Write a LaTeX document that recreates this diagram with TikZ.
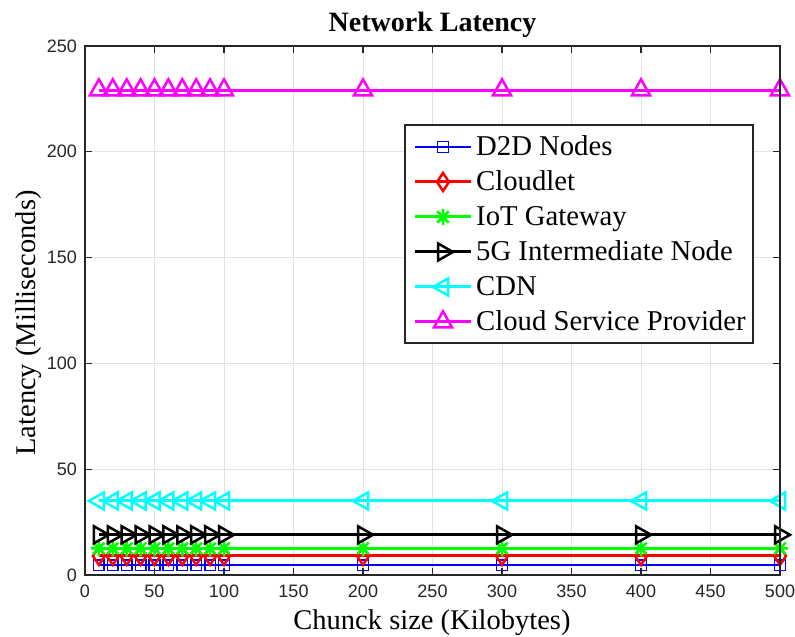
\documentclass[tikz,border=0pt]{standalone}
\usepackage{fontspec}
\setmainfont{Liberation Serif}
\newfontfamily\axisfont{Liberation Sans}
\usetikzlibrary{plotmarks}

\definecolor{axisgray}{HTML}{262626}
\definecolor{gridgray}{HTML}{E2E2E2}
\definecolor{pureblue}{rgb}{0,0,1}
\definecolor{purered}{rgb}{1,0,0}
\definecolor{puregreen}{rgb}{0,1,0}
\definecolor{purecyan}{rgb}{0,1,1}
\definecolor{puremagenta}{rgb}{1,0,1}

% series markers, centred on the data point
\pgfdeclareplotmark{msq}{%
  \pgfpathrectangle{\pgfqpoint{-5.3pt}{-5.3pt}}{\pgfqpoint{10.6pt}{10.6pt}}%
  \pgfusepathqstroke}
\pgfdeclareplotmark{mdia}{%
  \pgfpathmoveto{\pgfqpoint{0pt}{9pt}}%
  \pgfpathlineto{\pgfqpoint{6pt}{0pt}}%
  \pgfpathlineto{\pgfqpoint{0pt}{-9pt}}%
  \pgfpathlineto{\pgfqpoint{-6pt}{0pt}}%
  \pgfpathclose\pgfusepathqstroke}
\pgfdeclareplotmark{mast}{%
  \pgfpathmoveto{\pgfqpoint{-8pt}{0pt}}\pgfpathlineto{\pgfqpoint{8pt}{0pt}}%
  \pgfpathmoveto{\pgfqpoint{0pt}{-8pt}}\pgfpathlineto{\pgfqpoint{0pt}{8pt}}%
  \pgfpathmoveto{\pgfqpoint{-5.7pt}{-5.7pt}}\pgfpathlineto{\pgfqpoint{5.7pt}{5.7pt}}%
  \pgfpathmoveto{\pgfqpoint{-5.7pt}{5.7pt}}\pgfpathlineto{\pgfqpoint{5.7pt}{-5.7pt}}%
  \pgfusepathqstroke}
\pgfdeclareplotmark{mtriup}{%
  \pgfpathmoveto{\pgfqpoint{0pt}{10.7pt}}%
  \pgfpathlineto{\pgfqpoint{9pt}{-5.3pt}}%
  \pgfpathlineto{\pgfqpoint{-9pt}{-5.3pt}}%
  \pgfpathclose\pgfusepathqstroke}
\pgfdeclareplotmark{mtriright}{%
  \pgfpathmoveto{\pgfqpoint{10pt}{0pt}}%
  \pgfpathlineto{\pgfqpoint{-5pt}{8.5pt}}%
  \pgfpathlineto{\pgfqpoint{-5pt}{-8.5pt}}%
  \pgfpathclose\pgfusepathqstroke}
\pgfdeclareplotmark{mtrileft}{%
  \pgfpathmoveto{\pgfqpoint{-10pt}{0pt}}%
  \pgfpathlineto{\pgfqpoint{5pt}{8.5pt}}%
  \pgfpathlineto{\pgfqpoint{5pt}{-8.5pt}}%
  \pgfpathclose\pgfusepathqstroke}

\tikzset{
  axisline/.style={draw=axisgray, line width=1.3pt},
  gridline/.style={draw=gridgray, line width=1pt},
  ticklabel/.style={font=\axisfont\fontsize{18}{20}\selectfont, text=axisgray, inner sep=0pt},
  labeltext/.style={font=\fontsize{28.5}{32}\selectfont, inner sep=0pt},
  legendtext/.style={font=\fontsize{28.7}{32}\selectfont, inner sep=0pt, anchor=base west},
  sD2D/.style={pureblue, line width=1.5pt, mark=msq, mark options={solid, line width=1.5pt}},
  sCloudlet/.style={purered, line width=3pt, line join=miter, mark=mdia, mark options={solid, line width=2.5pt}},
  sIoT/.style={puregreen, line width=3pt, mark=mast, mark options={solid, line width=2.5pt}},
  sFiveG/.style={black, line width=3pt, line join=miter, mark=mtriright, mark options={solid, line width=2.5pt}},
  sCDN/.style={purecyan, line width=3pt, line join=miter, mark=mtrileft, mark options={solid, line width=2.5pt}},
  sCSP/.style={puremagenta, line width=3pt, line join=miter, mark=mtriup, mark options={solid, line width=2.5pt}},
}

% one constant-latency series over all chunk sizes
\newcommand\latseries[2]{%
  \draw[#1] plot coordinates {(10,#2) (20,#2) (30,#2) (40,#2) (50,#2) (60,#2)
    (70,#2) (80,#2) (90,#2) (100,#2) (200,#2) (300,#2) (400,#2) (500,#2)};}

% one legend entry: sample line with its marker in the middle, then the name
\newcommand\legentry[4]{%
  \draw[#2, mark indices={2}] plot coordinates {(415,#1) (443,#1) (471,#1)};
  \node[legendtext] (#3) at (476,#1-9) {#4};}

\begin{document}
\begin{tikzpicture}[x=1pt, y=1pt]
\useasboundingbox (0,0) rectangle (795,637);

\begin{scope}[shift={(85,62)}, x=1.39pt, y=2.116pt]
  % grid
  \foreach \gx in {50,100,...,450} \draw[gridline] (\gx,0) -- (\gx,250);
  \foreach \gy in {50,100,...,200} \draw[gridline] (0,\gy) -- (500,\gy);

  % data
  \latseries{sD2D}{4.7}
  \latseries{sCloudlet}{9}
  \latseries{sIoT}{12.6}
  \latseries{sFiveG}{19}
  \latseries{sCDN}{35}
  \latseries{sCSP}{229.2}

  % axes box with inward ticks
  \draw[axisline] (0,0) rectangle (500,250);
  \foreach \gx in {0,50,...,500} {
    \draw[axisline] (\gx,0) -- ++(0,7pt);
    \draw[axisline] (\gx,250) -- ++(0,-7pt);
    \node[ticklabel, anchor=base] (xt\gx) at ([yshift=-23pt]\gx,0) {\gx};
  }
  \foreach \gy in {0,50,...,250} {
    \draw[axisline] (0,\gy) -- ++(7pt,0);
    \draw[axisline] (500,\gy) -- ++(-7pt,0);
    \node[ticklabel, anchor=east] (yt\gy) at ([xshift=-8pt]0,\gy) {\gy};
  }
\end{scope}

% titles
\node[labeltext, font=\bfseries\fontsize{28}{30}\selectfont, anchor=base] (title) at (432.5,605) {Network Latency};
\node[labeltext, anchor=base] (xlabel) at (432,7) {Chunck size (Kilobytes)};
\node[labeltext, anchor=base, rotate=90] (ylabel) at (35,314) {Latency (Milliseconds)};

% legend
\draw[axisline, fill=white] (405,512) rectangle (753,294);
\legentry{490}{sD2D}{lgA}{D2D Nodes}
\legentry{455}{sCloudlet}{lgB}{Cloudlet}
\legentry{420}{sIoT}{lgC}{IoT Gateway}
\legentry{385}{sFiveG}{lgD}{5G Intermediate Node}
\legentry{350}{sCDN}{lgE}{CDN}
\legentry{315}{sCSP}{lgF}{Cloud Service Provider}
\end{tikzpicture}
\end{document}
